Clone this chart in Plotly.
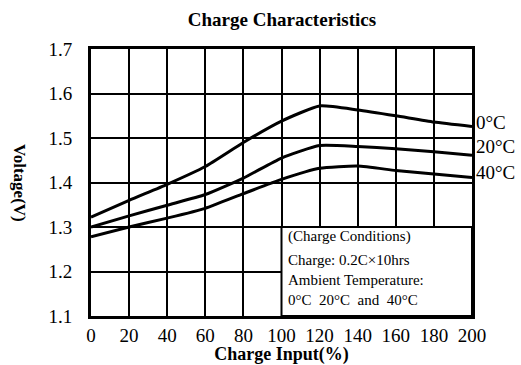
import plotly.graph_objects as go

charge_input = [0, 20, 40, 60, 80, 100, 120, 140, 160, 180, 200]
v_0c = [1.322, 1.360, 1.396, 1.436, 1.490, 1.538, 1.572, 1.563, 1.550, 1.536, 1.526]
v_20c = [1.300, 1.325, 1.349, 1.373, 1.410, 1.455, 1.483, 1.481, 1.476, 1.469, 1.461]
v_40c = [1.278, 1.300, 1.320, 1.342, 1.375, 1.407, 1.432, 1.437, 1.427, 1.419, 1.411]
series_names = ["0°C", "20°C", "40°C"]
label_y = [1.535, 1.482, 1.422]
x_ticks = [0, 20, 40, 60, 80, 100, 120, 140, 160, 180, 200]
y_ticks = [1.1, 1.2, 1.3, 1.4, 1.5, 1.6, 1.7]
box_lines = ["(Charge Conditions)", "Charge: 0.2C×10hrs", "Ambient Temperature:", "0°C  20°C  and  40°C"]
box_line_y = [1.278, 1.226, 1.180, 1.135]

FONT = "Liberation Serif"
W, H, L, R, T, B = 521, 365, 91, 49, 49, 49
pw, ph = W - L - R, H - T - B

fig = go.Figure()
for name, vals in zip(series_names, [v_0c, v_20c, v_40c]):
    fig.add_trace(go.Scatter(x=charge_input, y=vals, mode="lines", name=name,
                             line=dict(color="black", width=3, shape="spline", smoothing=0.5),
                             showlegend=False, hoverinfo="skip"))

for name, yy in zip(series_names, label_y):
    fig.add_annotation(x=1.0, xref="paper", y=yy, yref="y", text=name, showarrow=False,
                       xanchor="left", xshift=2, font=dict(family=FONT, size=19, color="black"))

# condition box
fig.add_shape(type="rect", x0=100, x1=200, y0=1.1, y1=1.3, xref="x", yref="y",
              fillcolor="white", line=dict(color="black", width=2), layer="above")
for t, yy in zip(box_lines, box_line_y):
    fig.add_annotation(x=102.3, y=yy, xref="x", yref="y", text=t, showarrow=False,
                       xanchor="left", font=dict(family=FONT, size=15, color="black"))

fig.add_annotation(x=(20 - L) / pw, xref="paper", y=(H - B - 183) / ph, yref="paper",
                   xanchor="center", yanchor="middle",
                   text="<b>Voltage(V)</b>", textangle=90, showarrow=False,
                   font=dict(family=FONT, size=17, color="black"))

fig.update_layout(
    width=W, height=H,
    margin=dict(l=L, r=R, t=T, b=B),
    paper_bgcolor="white", plot_bgcolor="white",
    title=dict(text="<b>Charge Characteristics</b>", x=282 / W, xanchor="center",
               y=1 - 19 / H, yanchor="middle", yref="container",
               font=dict(family=FONT, size=19, color="black")),
    font=dict(family=FONT, color="black"),
)

fig.update_xaxes(range=[0, 200], tickvals=x_ticks, showgrid=True, gridcolor="black", gridwidth=1.5,
                 showline=True, linecolor="black", linewidth=3, mirror=True, zeroline=False,
                 automargin=False,
                 tickfont=dict(family=FONT, size=19, color="black"),
                 title=dict(text="<b>Charge Input(%)</b>", font=dict(family=FONT, size=18, color="black"), standoff=2))
fig.update_yaxes(range=[1.1, 1.7], tickvals=y_ticks, tickformat=".1f", showgrid=True, gridcolor="black", gridwidth=1.5,
                 showline=True, linecolor="black", linewidth=3, mirror=True, zeroline=False,
                 automargin=False, ticklabelstandoff=12,
                 tickfont=dict(family=FONT, size=19, color="black"))

fig.write_html("out.html", config={"displayModeBar": False},
               post_script="document.body.style.margin='0';")
